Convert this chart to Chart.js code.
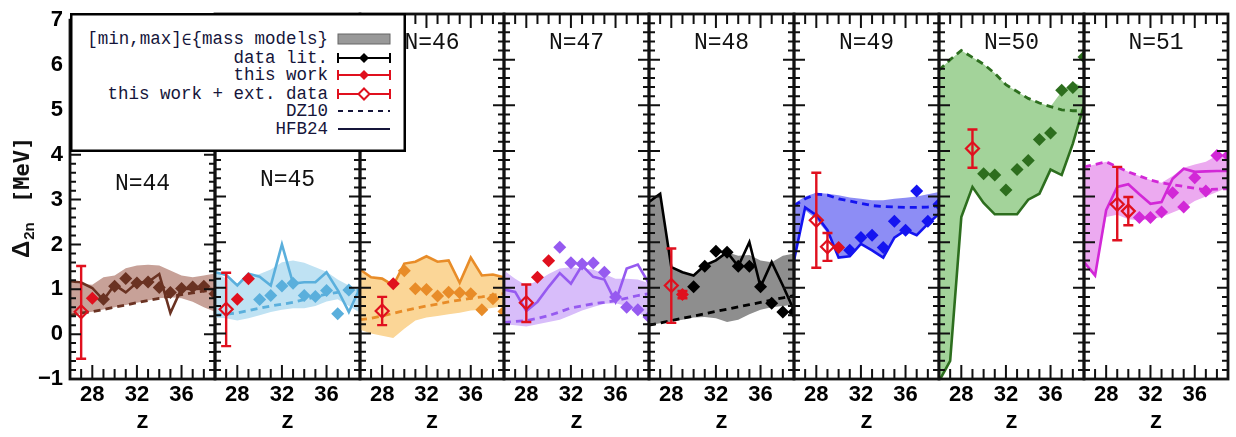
<!DOCTYPE html>
<html>
<head>
<meta charset="utf-8">
<script src="https://cdn.jsdelivr.net/npm/chart.js@4"></script>
<style>
  html, body { margin: 0; padding: 0; background: #fff; }
  #wrap { position: relative; width: 1236px; height: 437px; overflow: hidden; background: #fff; }
  #wrap canvas { position: absolute; top: 0; }
  #legend { position: absolute; left: 70px; top: 13px; z-index: 5; }
  #legend text { font-family: "Liberation Mono", "DejaVu Sans Mono", monospace; font-size: 17.5px; fill: #15153a; }
</style>
</head>
<body>
<div id="wrap">
  <svg id="legend" width="337" height="140">
    <rect x="1.25" y="1.25" width="333.5" height="136.5" fill="#fff" stroke="#000" stroke-width="2.5"/>
    <text x="258" y="26" text-anchor="end" dominant-baseline="central">[min,max]<tspan font-family="DejaVu Sans Mono" font-size="16">∈</tspan>{mass models}</text>
    <rect x="268" y="21" width="52" height="10" fill="#999" stroke="#666" stroke-width="1"/>
    <text x="258" y="45" text-anchor="end" dominant-baseline="central">data lit.</text>
    <g stroke="#000" stroke-width="2"><line x1="268" y1="45" x2="320" y2="45"/><line x1="268" y1="40" x2="268" y2="50"/><line x1="320" y1="40" x2="320" y2="50"/></g>
    <polygon points="294,40 299,45 294,50 289,45" fill="#000"/>
    <text x="258" y="62" text-anchor="end" dominant-baseline="central">this work</text>
    <g stroke="#e0101e" stroke-width="2"><line x1="268" y1="62" x2="320" y2="62"/><line x1="268" y1="57" x2="268" y2="67"/><line x1="320" y1="57" x2="320" y2="67"/></g>
    <polygon points="294,57 299,62 294,67 289,62" fill="#e0101e"/>
    <text x="258" y="81" text-anchor="end" dominant-baseline="central">this work + ext. data</text>
    <g stroke="#e0101e" stroke-width="2"><line x1="268" y1="81" x2="320" y2="81"/><line x1="268" y1="76" x2="268" y2="86"/><line x1="320" y1="76" x2="320" y2="86"/></g>
    <polygon points="294,75.5 299.5,81 294,86.5 288.5,81" fill="#fff" stroke="#e0101e" stroke-width="2"/>
    <text x="258" y="98" text-anchor="end" dominant-baseline="central">DZ10</text>
    <line x1="268" y1="98" x2="320" y2="98" stroke="#15153a" stroke-width="2" stroke-dasharray="5,5"/>
    <text x="258" y="116" text-anchor="end" dominant-baseline="central">HFB24</text>
    <line x1="268" y1="116" x2="320" y2="116" stroke="#15153a" stroke-width="2"/>
  </svg>
</div>
<script>
// isotones N=44..51, Z grid 26..39
const N_LIST = [44, 45, 46, 47, 48, 49, 50, 51];
const Z_GRID = [26, 27, 28, 29, 30, 31, 32, 33, 34, 35, 36, 37, 38, 39];
const X_TICKS = [28, 32, 36];
const X_MINOR = [27, 28, 29, 30, 31, 32, 33, 34, 35, 36, 37, 38];
const Y_TICKS = [-1, 0, 1, 2, 3, 4, 5, 6, 7];

// [min,max] band of the mass models
const bandLow = [
  [0.42, 0.46, 0.50, 0.55, 0.60, 0.65, 0.70, 0.75, 0.80, 0.82, 0.80, 0.72, 0.60, 0.50],
  [0.35, 0.33, 0.28, 0.33, 0.40, 0.47, 0.52, 0.55, 0.55, 0.60, 0.70, 0.75, 0.60, 0.45],
  [0.08, 0.00, -0.05, -0.10, 0.10, 0.28, 0.35, 0.38, 0.42, 0.45, 0.50, 0.52, 0.56, 0.60],
  [0.20, 0.18, 0.15, 0.20, 0.25, 0.30, 0.40, 0.50, 0.58, 0.65, 0.66, 0.60, 0.45, 0.32],
  [0.18, 0.22, 0.26, 0.30, 0.35, 0.36, 0.33, 0.25, 0.30, 0.42, 0.52, 0.57, 0.60, 0.63],
  [1.60, 2.70, 2.50, 2.20, 1.66, 1.69, 1.96, 1.82, 1.66, 2.10, 2.26, 2.15, 2.40, 2.62],
  [-1.05, -0.60, 2.55, 3.21, 2.86, 2.61, 2.61, 2.61, 2.93, 3.06, 3.59, 3.47, 4.16, 5.00],
  [1.53, 1.27, 2.55, 2.60, 2.50, 2.48, 2.50, 2.55, 2.65, 2.75, 2.90, 3.00, 3.10, 3.20]
];
const bandHigh = [
  [1.16, 1.12, 1.10, 1.27, 1.31, 1.47, 1.53, 1.55, 1.53, 1.42, 1.31, 1.27, 1.31, 1.35],
  [1.35, 1.20, 1.10, 1.25, 1.30, 1.40, 1.56, 1.60, 1.55, 1.45, 1.35, 1.18, 1.05, 0.95],
  [1.40, 1.23, 1.20, 1.05, 1.53, 1.57, 1.69, 1.57, 1.60, 1.11, 1.66, 1.27, 1.29, 1.23],
  [1.38, 1.20, 1.05, 1.15, 1.30, 1.42, 1.45, 1.42, 1.40, 1.30, 1.20, 1.20, 1.18, 1.10],
  [2.88, 3.06, 1.45, 1.34, 1.27, 1.49, 1.60, 1.78, 1.70, 1.72, 1.60, 1.56, 1.70, 1.75],
  [2.84, 3.00, 3.08, 3.06, 3.03, 2.98, 2.95, 2.92, 2.92, 2.95, 2.97, 3.00, 3.05, 3.10],
  [5.77, 6.00, 6.20, 6.05, 5.90, 5.70, 5.45, 5.30, 5.15, 5.05, 4.97, 5.30, 5.50, 5.40],
  [3.65, 3.70, 3.76, 3.65, 3.54, 3.45, 3.36, 3.30, 3.45, 3.63, 3.70, 3.76, 3.90, 3.95]
];
const dz10 = [
  [0.42, 0.47, 0.50, 0.55, 0.60, 0.65, 0.70, 0.75, 0.80, 0.84, 0.88, 0.92, 0.96, 0.98],
  [0.40, 0.42, 0.45, 0.50, 0.55, 0.60, 0.64, 0.68, 0.74, 0.80, 0.86, 0.90, 0.93, 0.95],
  [0.30, 0.33, 0.38, 0.44, 0.50, 0.55, 0.60, 0.64, 0.69, 0.73, 0.77, 0.80, 0.84, 0.87],
  [0.24, 0.26, 0.28, 0.33, 0.39, 0.47, 0.56, 0.60, 0.65, 0.68, 0.72, 0.77, 0.83, 0.87],
  [0.18, 0.23, 0.28, 0.33, 0.38, 0.43, 0.48, 0.53, 0.58, 0.63, 0.68, 0.73, 0.78, 0.83],
  [2.80, 2.95, 3.05, 3.03, 2.95, 2.90, 2.85, 2.80, 2.78, 2.77, 2.76, 2.76, 2.77, 2.80],
  [5.77, 6.00, 6.20, 6.05, 5.90, 5.70, 5.45, 5.30, 5.15, 5.05, 4.97, 4.90, 4.88, 4.88],
  [3.65, 3.70, 3.76, 3.65, 3.54, 3.45, 3.36, 3.30, 3.26, 3.22, 3.18, 3.15, 3.16, 3.17]
];
const hfb24 = [
  [1.18, 1.15, 1.03, 0.76, 1.10, 0.93, 1.15, 1.16, 1.34, 0.47, 1.02, 1.00, 1.02, 1.00],
  [1.34, 1.28, 1.05, 1.31, 1.24, 1.05, 1.95, 1.09, 1.12, 1.12, 1.34, 0.95, 0.47, 1.00],
  [1.40, 1.23, 1.20, 1.05, 1.53, 1.57, 1.69, 1.57, 1.60, 1.11, 1.66, 1.27, 1.29, 1.23],
  [0.96, 0.91, 0.49, 0.69, 1.02, 1.32, 1.09, 1.49, 1.24, 1.18, 0.69, 1.42, 1.51, 1.09],
  [2.88, 3.06, 1.45, 1.34, 1.27, 1.49, 1.60, 1.78, 1.47, 2.00, 1.02, 1.56, 1.05, 0.50],
  [1.60, 2.76, 2.59, 2.26, 1.66, 1.69, 1.96, 1.82, 1.66, 2.10, 2.26, 2.15, 2.40, 2.62],
  [-1.05, -0.60, 2.55, 3.21, 2.86, 2.61, 2.61, 2.61, 2.93, 3.06, 3.59, 3.47, 4.16, 5.00],
  [1.56, 1.27, 2.70, 3.21, 3.27, 3.05, 2.84, 2.88, 3.39, 3.61, 3.54, 3.55, 3.56, 3.56]
];

// data lit.
const litZ = [
  [29, 30, 31, 32, 33, 34, 35, 36, 37, 38, 39],
  [30, 31, 32, 33, 34, 35, 36, 37, 38],
  [30, 31, 32, 33, 34, 35, 36, 37, 38, 39],
  [31, 32, 33, 34, 35, 36, 37, 38, 39],
  [30, 31, 32, 33, 34, 35, 36, 37, 38, 39],
  [31, 32, 33, 34, 35, 36, 37, 38, 39],
  [30, 31, 32, 33, 34, 35, 36, 37, 38, 39],
  [31, 32, 33, 34, 35, 36, 37, 38, 39]
];
const litVal = [
  [0.78, 1.07, 1.24, 1.14, 1.16, 1.04, 0.93, 1.02, 1.05, 1.07, 0.90],
  [0.74, 0.83, 1.04, 1.10, 0.83, 0.81, 0.94, 0.43, 0.95],
  [1.37, 0.98, 0.96, 0.82, 0.90, 0.89, 0.87, 0.52, 0.76, 0.48],
  [1.89, 1.55, 1.52, 1.54, 1.34, 0.80, 0.57, 0.52, 0.36],
  [1.02, 1.47, 1.80, 1.78, 1.47, 1.47, 1.02, 0.66, 0.47, 0.47],
  [1.82, 2.10, 2.15, 1.88, 2.46, 2.26, 3.12, 2.46, 2.83],
  [3.50, 3.47, 3.14, 3.59, 3.79, 4.25, 4.39, 5.33, 5.39, 6.06],
  [2.54, 2.54, 2.66, 3.08, 2.77, 3.41, 3.12, 3.90, 3.90]
];

// this work
const workZ = [[28], [28, 29], [29], [29, 30], [29], [30], [], []];
const workVal = [[0.80], [0.75, 1.20], [1.09], [1.23, 1.59], [0.85], [1.88], [], []];
const workErr = [[0], [0, 0], [0], [0, 0], [0.08], [0], [], []];

// this work + ext. data
const extZ = [[27], [27], [28], [28], [28], [28, 29], [29], [29, 30]];
const extVal = [[0.50], [0.53], [0.49], [0.67], [1.05], [2.48, 1.90], [4.05], [2.83, 2.68]];
const extLow = [[-0.55], [-0.28], [0.18], [0.25], [0.23], [1.44, 1.59], [3.63], [2.04, 2.37]];
const extHigh = [[1.52], [1.33], [0.80], [1.07], [1.86], [3.52, 2.20], [4.47], [3.65, 2.99]];

const LINE_COLORS = ['#6a3222', '#5aafdc', '#e88c28', '#965af0', '#000000', '#1414f0', '#2d6e1e', '#d228d7'];
const BAND_COLORS = ['#c7a198', '#bfe2f3', '#fbd697', '#d8bdfa', '#8e8e8e', '#8d8df5', '#a3d39a', '#ecaaf0'];
const RED = '#e0101e';
const TITLE_V = [3.36, 3.36, 6.36, 6.36, 6.36, 6.36, 6.36, 6.36];

const PLOT_TOP = 14, AXIS_H = 58, PANEL_X0 = 70, PANEL_W = 144.8, PAD = 4;

const pts = (xs, ys) => xs.map((x, k) => ({ x: x, y: ys[k] }));

// error bars, drawn under the markers
const errorBars = {
  id: 'errorBars',
  beforeDatasetDraw(chart, args) {
    const ds = chart.data.datasets[args.index];
    if (!ds.errLow) return;
    const { ctx, chartArea: a, scales: { x, y } } = chart;
    ctx.save();
    ctx.beginPath();
    ctx.rect(a.left, a.top, a.right - a.left, a.bottom - a.top);
    ctx.clip();
    ctx.strokeStyle = ds.errColor;
    ctx.lineWidth = 2.4;
    ds.data.forEach((p, k) => {
      if (ds.errHigh[k] === ds.errLow[k]) return;
      const px = x.getPixelForValue(p.x);
      const y1 = y.getPixelForValue(ds.errLow[k]);
      const y2 = y.getPixelForValue(ds.errHigh[k]);
      ctx.beginPath();
      ctx.moveTo(px, y1); ctx.lineTo(px, y2);
      ctx.moveTo(px - 5, y1); ctx.lineTo(px + 5, y1);
      ctx.moveTo(px - 5, y2); ctx.lineTo(px + 5, y2);
      ctx.stroke();
    });
    ctx.restore();
  }
};

// panel frame with inward ticks + panel title
const frame = {
  id: 'frame',
  afterDraw(chart, args, opts) {
    const { ctx, chartArea: a, scales: { x, y } } = chart;
    ctx.save();
    ctx.strokeStyle = '#111';
    ctx.lineWidth = 2;
    ctx.beginPath();
    for (let k = -5; k <= 35; k++) {
      const py = y.getPixelForValue(k / 5);
      const len = k % 5 === 0 ? 11 : 6;
      ctx.moveTo(a.left, py); ctx.lineTo(a.left + len, py);
      ctx.moveTo(a.right, py); ctx.lineTo(a.right - len, py);
    }
    X_MINOR.forEach(z => {
      const px = x.getPixelForValue(z);
      const len = X_TICKS.includes(z) ? 14 : 10;
      ctx.moveTo(px, a.bottom); ctx.lineTo(px, a.bottom - len);
      ctx.moveTo(px, a.top); ctx.lineTo(px, a.top + len);
    });
    ctx.stroke();
    ctx.lineWidth = 2.8;
    ctx.strokeRect(a.left, a.top, a.right - a.left, a.bottom - a.top);

    ctx.fillStyle = '#111';
    ctx.font = '23px "Liberation Mono", monospace';
    ctx.textAlign = 'center';
    ctx.textBaseline = 'middle';
    ctx.fillText('N=' + opts.n, (a.left + a.right) / 2, y.getPixelForValue(opts.titleV));

    if (opts.yTitle) {
      ctx.translate(29, 258);
      ctx.rotate(-Math.PI / 2);
      ctx.textAlign = 'left';
      ctx.textBaseline = 'alphabetic';
      ctx.font = 'bold 24px "Liberation Sans", sans-serif';
      ctx.fillText('Δ', 0, 0);
      const w = ctx.measureText('Δ').width;
      ctx.font = 'bold 15px "Liberation Sans", sans-serif';
      ctx.fillText('2n', w + 1, 5);
      ctx.font = 'bold 22px "DejaVu Sans Mono", monospace';
      ctx.fillText('[MeV]', 55, 0);
    }
    ctx.restore();
  }
};

const wrap = document.getElementById('wrap');

N_LIST.forEach((n, i) => {
  const left = Math.round(PANEL_X0 + i * PANEL_W);
  const right = Math.round(PANEL_X0 + (i + 1) * PANEL_W);
  const cLeft = i === 0 ? 0 : left - PAD;
  const cw = right + PAD - cLeft;

  const canvas = document.createElement('canvas');
  canvas.width = cw;
  canvas.height = 437;
  canvas.style.left = cLeft + 'px';
  canvas.style.width = cw + 'px';
  canvas.style.height = '437px';
  wrap.insertBefore(canvas, document.getElementById('legend'));

  const color = LINE_COLORS[i];

  const yAxis = {
    type: 'linear', min: -1, max: 7, display: i === 0,
    grid: { display: false, drawTicks: false },
    border: { display: false },
    afterBuildTicks: axis => { axis.ticks = Y_TICKS.map(v => ({ value: v })); },
    ticks: {
      color: '#000', padding: 7,
      font: { family: 'Liberation Sans', weight: 'bold', size: 22 },
      callback: v => (v < 0 ? '\u2212' + Math.abs(v) : String(v))
    }
  };
  if (i === 0) yAxis.afterFit = axis => { axis.width = left; };

  new Chart(canvas, {
    type: 'line',
    data: {
      datasets: [
        {
          label: 'band max', data: pts(Z_GRID, bandHigh[i]), fill: '+1',
          backgroundColor: BAND_COLORS[i], borderColor: 'rgba(0,0,0,0)', borderWidth: 0,
          pointRadius: 0, order: 10, clip: 0
        },
        {
          label: 'band min', data: pts(Z_GRID, bandLow[i]), fill: false,
          borderColor: 'rgba(0,0,0,0)', borderWidth: 0, pointRadius: 0, order: 10, clip: 0
        },
        {
          label: 'DZ10', data: pts(Z_GRID, dz10[i]), borderColor: color, borderWidth: 2.8,
          borderDash: [7, 5], pointRadius: 0, fill: false, order: 5, clip: 0
        },
        {
          label: 'HFB24', data: pts(Z_GRID, hfb24[i]), borderColor: color, borderWidth: 2.6,
          pointRadius: 0, fill: false, order: 4, clip: 0
        },
        {
          label: 'data lit.', data: pts(litZ[i], litVal[i]), showLine: false,
          pointStyle: 'rectRot', pointRadius: 6.5, pointBackgroundColor: color, pointBorderWidth: 0,
          order: 3, clip: 0
        },
        {
          label: 'this work', data: pts(workZ[i], workVal[i]), showLine: false,
          pointStyle: 'rectRot', pointRadius: 6.5, pointBackgroundColor: RED, pointBorderWidth: 0,
          errLow: workVal[i].map((v, k) => v - workErr[i][k]),
          errHigh: workVal[i].map((v, k) => v + workErr[i][k]),
          errColor: RED, order: 2, clip: 0
        },
        {
          label: 'this work + ext. data', data: pts(extZ[i], extVal[i]), showLine: false,
          pointStyle: 'rectRot', pointRadius: 6.5, pointBackgroundColor: 'rgba(0,0,0,0)',
          pointBorderColor: RED, pointBorderWidth: 2.2,
          errLow: extLow[i], errHigh: extHigh[i], errColor: RED, order: 1, clip: 0
        }
      ]
    },
    options: {
      responsive: false,
      animation: false,
      events: [],
      layout: { autoPadding: false, padding: { left: i === 0 ? 0 : PAD, right: PAD, top: PLOT_TOP, bottom: 0 } },
      elements: { line: { tension: 0 } },
      plugins: {
        legend: { display: false },
        tooltip: { enabled: false },
        frame: { n: n, titleV: TITLE_V[i], yTitle: i === 0 }
      },
      scales: {
        x: {
          type: 'linear', position: 'bottom', min: 26, max: 39,
          grid: { display: false, drawTicks: false },
          border: { display: false },
          afterBuildTicks: axis => { axis.ticks = X_TICKS.map(v => ({ value: v })); },
          afterFit: axis => { axis.height = AXIS_H; },
          ticks: {
            color: '#000', padding: 3, maxRotation: 0, autoSkip: false,
            font: { family: 'Liberation Sans', weight: 'bold', size: 22 }
          },
          title: {
            display: true, text: 'Z', color: '#000', padding: { top: 0, bottom: 2 },
            font: { family: 'Liberation Mono', weight: 'bold', size: 20 }
          }
        },
        y: yAxis
      }
    },
    plugins: [errorBars, frame]
  });
});
</script>
</body>
</html>
